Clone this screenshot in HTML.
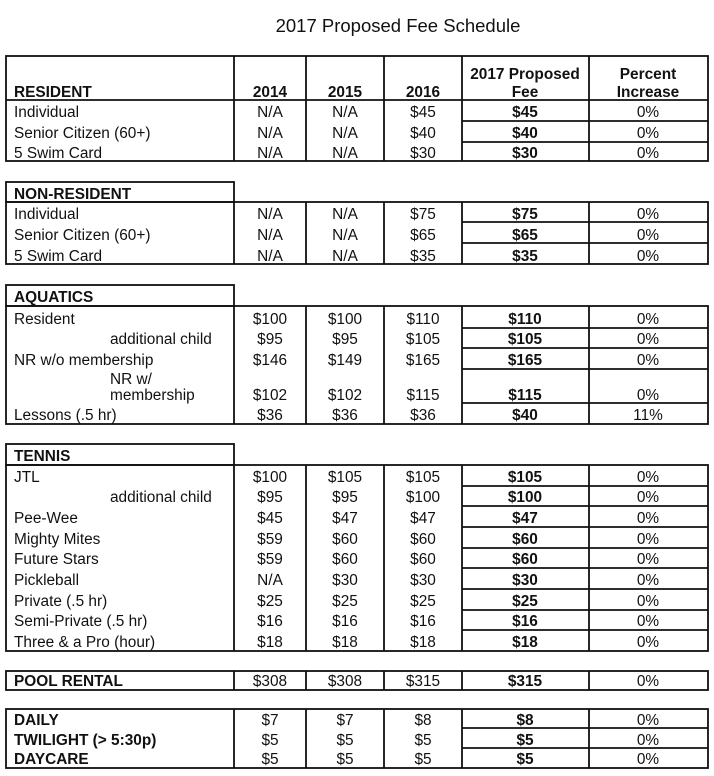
<!DOCTYPE html>
<html><head><meta charset="utf-8"><style>
html,body{margin:0;padding:0;background:#fff;width:714px;height:776px;overflow:hidden}
svg{display:block}
text{font-family:"Liberation Sans",Arial,sans-serif;font-size:15.4px;fill:#111}
.b{font-weight:bold}
.c{text-anchor:middle}
</style></head><body>
<svg width="714" height="776" viewBox="0 0 714 776" xmlns="http://www.w3.org/2000/svg">
<text x="398" y="32" class="c" style="font-size:18.5px">2017 Proposed Fee Schedule</text>
<g stroke="#111" stroke-width="1.8" fill="none">
<rect x="6" y="56" width="702" height="105"/>
<line x1="6" y1="100" x2="708" y2="100"/>
<path d="M234 56V161M306 56V161M384 56V161M462 56V161M589 56V161"/>
<path d="M462 121H708M462 142H708"/>
<rect x="6" y="182" width="228" height="20"/>
<rect x="6" y="202" width="702" height="62"/>
<path d="M234 202V264M306 202V264M384 202V264M462 202V264M589 202V264"/>
<path d="M462 222H708M462 243H708"/>
<rect x="6" y="285" width="228" height="21"/>
<rect x="6" y="306" width="702" height="118"/>
<path d="M234 306V424M306 306V424M384 306V424M462 306V424M589 306V424"/>
<path d="M462 328H708M462 348H708M462 369H708M462 403H708"/>
<rect x="6" y="444" width="228" height="21"/>
<rect x="6" y="465" width="702" height="186"/>
<path d="M234 465V651M306 465V651M384 465V651M462 465V651M589 465V651"/>
<path d="M462 486H708M462 506H708M462 527H708M462 548H708M462 568H708M462 589H708M462 610H708M462 630H708"/>
<rect x="6" y="671" width="702" height="19"/>
<path d="M234 671V690M306 671V690M384 671V690M462 671V690M589 671V690"/>
<rect x="6" y="709" width="702" height="59"/>
<path d="M234 709V768M306 709V768M384 709V768M462 709V768M589 709V768"/>
<path d="M462 728H708M462 748H708"/>
</g>
<g>
<text x="14" y="97" class="b">RESIDENT</text>
<text x="270" y="97" class="b c">2014</text><text x="345" y="97" class="b c">2015</text><text x="423" y="97" class="b c">2016</text>
<text x="525" y="79" class="b c">2017 Proposed</text><text x="525" y="97" class="b c">Fee</text>
<text x="648" y="79" class="b c">Percent</text><text x="648" y="97" class="b c">Increase</text>

<text x="14" y="117">Individual</text><text x="270" y="117" class="c">N/A</text><text x="345" y="117" class="c">N/A</text><text x="423" y="117" class="c">$45</text><text x="525" y="117" class="b c">$45</text><text x="648" y="117" class="c">0%</text>
<text x="14" y="138">Senior Citizen (60+)</text><text x="270" y="138" class="c">N/A</text><text x="345" y="138" class="c">N/A</text><text x="423" y="138" class="c">$40</text><text x="525" y="138" class="b c">$40</text><text x="648" y="138" class="c">0%</text>
<text x="14" y="158">5 Swim Card</text><text x="270" y="158" class="c">N/A</text><text x="345" y="158" class="c">N/A</text><text x="423" y="158" class="c">$30</text><text x="525" y="158" class="b c">$30</text><text x="648" y="158" class="c">0%</text>

<text x="14" y="199" class="b">NON-RESIDENT</text>
<text x="14" y="219">Individual</text><text x="270" y="219" class="c">N/A</text><text x="345" y="219" class="c">N/A</text><text x="423" y="219" class="c">$75</text><text x="525" y="219" class="b c">$75</text><text x="648" y="219" class="c">0%</text>
<text x="14" y="240">Senior Citizen (60+)</text><text x="270" y="240" class="c">N/A</text><text x="345" y="240" class="c">N/A</text><text x="423" y="240" class="c">$65</text><text x="525" y="240" class="b c">$65</text><text x="648" y="240" class="c">0%</text>
<text x="14" y="261">5 Swim Card</text><text x="270" y="261" class="c">N/A</text><text x="345" y="261" class="c">N/A</text><text x="423" y="261" class="c">$35</text><text x="525" y="261" class="b c">$35</text><text x="648" y="261" class="c">0%</text>

<text x="14" y="302" class="b">AQUATICS</text>
<text x="14" y="324">Resident</text><text x="270" y="324" class="c">$100</text><text x="345" y="324" class="c">$100</text><text x="423" y="324" class="c">$110</text><text x="525" y="324" class="b c">$110</text><text x="648" y="324" class="c">0%</text>
<text x="110" y="344">additional child</text><text x="270" y="344" class="c">$95</text><text x="345" y="344" class="c">$95</text><text x="423" y="344" class="c">$105</text><text x="525" y="344" class="b c">$105</text><text x="648" y="344" class="c">0%</text>
<text x="14" y="365">NR w/o membership</text><text x="270" y="365" class="c">$146</text><text x="345" y="365" class="c">$149</text><text x="423" y="365" class="c">$165</text><text x="525" y="365" class="b c">$165</text><text x="648" y="365" class="c">0%</text>
<text x="110" y="384">NR w/</text>
<text x="110" y="400">membership</text><text x="270" y="400" class="c">$102</text><text x="345" y="400" class="c">$102</text><text x="423" y="400" class="c">$115</text><text x="525" y="400" class="b c">$115</text><text x="648" y="400" class="c">0%</text>
<text x="14" y="420">Lessons (.5 hr)</text><text x="270" y="420" class="c">$36</text><text x="345" y="420" class="c">$36</text><text x="423" y="420" class="c">$36</text><text x="525" y="420" class="b c">$40</text><text x="648" y="420" class="c">11%</text>

<text x="14" y="461" class="b">TENNIS</text>
<text x="14" y="482">JTL</text><text x="270" y="482" class="c">$100</text><text x="345" y="482" class="c">$105</text><text x="423" y="482" class="c">$105</text><text x="525" y="482" class="b c">$105</text><text x="648" y="482" class="c">0%</text>
<text x="110" y="502">additional child</text><text x="270" y="502" class="c">$95</text><text x="345" y="502" class="c">$95</text><text x="423" y="502" class="c">$100</text><text x="525" y="502" class="b c">$100</text><text x="648" y="502" class="c">0%</text>
<text x="14" y="523">Pee-Wee</text><text x="270" y="523" class="c">$45</text><text x="345" y="523" class="c">$47</text><text x="423" y="523" class="c">$47</text><text x="525" y="523" class="b c">$47</text><text x="648" y="523" class="c">0%</text>
<text x="14" y="544">Mighty Mites</text><text x="270" y="544" class="c">$59</text><text x="345" y="544" class="c">$60</text><text x="423" y="544" class="c">$60</text><text x="525" y="544" class="b c">$60</text><text x="648" y="544" class="c">0%</text>
<text x="14" y="564">Future Stars</text><text x="270" y="564" class="c">$59</text><text x="345" y="564" class="c">$60</text><text x="423" y="564" class="c">$60</text><text x="525" y="564" class="b c">$60</text><text x="648" y="564" class="c">0%</text>
<text x="14" y="585">Pickleball</text><text x="270" y="585" class="c">N/A</text><text x="345" y="585" class="c">$30</text><text x="423" y="585" class="c">$30</text><text x="525" y="585" class="b c">$30</text><text x="648" y="585" class="c">0%</text>
<text x="14" y="606">Private (.5 hr)</text><text x="270" y="606" class="c">$25</text><text x="345" y="606" class="c">$25</text><text x="423" y="606" class="c">$25</text><text x="525" y="606" class="b c">$25</text><text x="648" y="606" class="c">0%</text>
<text x="14" y="626">Semi-Private (.5 hr)</text><text x="270" y="626" class="c">$16</text><text x="345" y="626" class="c">$16</text><text x="423" y="626" class="c">$16</text><text x="525" y="626" class="b c">$16</text><text x="648" y="626" class="c">0%</text>
<text x="14" y="647">Three &amp; a Pro (hour)</text><text x="270" y="647" class="c">$18</text><text x="345" y="647" class="c">$18</text><text x="423" y="647" class="c">$18</text><text x="525" y="647" class="b c">$18</text><text x="648" y="647" class="c">0%</text>

<text x="14" y="686" class="b">POOL RENTAL</text><text x="270" y="686" class="c">$308</text><text x="345" y="686" class="c">$308</text><text x="423" y="686" class="c">$315</text><text x="525" y="686" class="b c">$315</text><text x="648" y="686" class="c">0%</text>

<text x="14" y="725" class="b">DAILY</text><text x="270" y="725" class="c">$7</text><text x="345" y="725" class="c">$7</text><text x="423" y="725" class="c">$8</text><text x="525" y="725" class="b c">$8</text><text x="648" y="725" class="c">0%</text>
<text x="14" y="745" class="b">TWILIGHT (&gt; 5:30p)</text><text x="270" y="745" class="c">$5</text><text x="345" y="745" class="c">$5</text><text x="423" y="745" class="c">$5</text><text x="525" y="745" class="b c">$5</text><text x="648" y="745" class="c">0%</text>
<text x="14" y="764" class="b">DAYCARE</text><text x="270" y="764" class="c">$5</text><text x="345" y="764" class="c">$5</text><text x="423" y="764" class="c">$5</text><text x="525" y="764" class="b c">$5</text><text x="648" y="764" class="c">0%</text>
</g>
</svg>
</body></html>
